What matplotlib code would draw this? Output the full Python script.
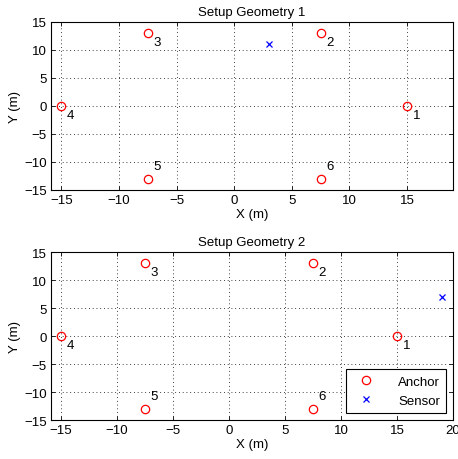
import matplotlib
matplotlib.use('Agg')
import matplotlib.pyplot as plt
import numpy as np

plt.rcParams['font.family'] = ['Liberation Sans', 'DejaVu Sans']

# anchor positions (hexagon, radius 15)
anchor_x = [15, 7.5, -7.5, -15, -7.5, 7.5]
anchor_y = [0, 13, 13, 0, -13, -13]
anchor_ids = ['1', '2', '3', '4', '5', '6']

# sensor positions for each setup
sensor_x = [3, 19]
sensor_y = [11, 7]

titles = ['Setup Geometry 1', 'Setup Geometry 2']
xlims = [(-15.9, 19), (-15.9, 20)]

fig = plt.figure(figsize=(4.58, 4.60), dpi=100)
W, H = 458, 460
boxes = [(51, 23, 453, 191), (51, 253, 453, 421)]

for i in range(2):
    l, t, r, b = boxes[i]
    ax = fig.add_axes([l / W, 1 - b / H, (r - l) / W, (b - t) / H])
    ax.plot(anchor_x, anchor_y, 'o', mfc='none', mec='red', ms=6, mew=0.9,
            ls='none', label='Anchor')
    ax.plot([sensor_x[i]], [sensor_y[i]], 'x', color='blue', ms=4, mew=0.9,
            ls='none', label='Sensor')
    for ax_x, ax_y, lab in zip(anchor_x, anchor_y, anchor_ids):
        dy = 2.3 if ax_y < -10 else -1.6
        ax.text(ax_x + 0.5, ax_y + dy, lab, fontsize=9.5, ha='left', va='center')
    ax.set_xlim(*xlims[i])
    ax.set_ylim(-15, 15)
    ax.set_yticks([-15, -10, -5, 0, 5, 10, 15])
    ax.set_xticks(np.arange(-15, xlims[i][1] + 0.1, 5))
    ax.grid(True, color='black', ls=(0, (1, 3.5)), lw=0.6)
    ax.tick_params(direction='in', top=True, right=True, labelsize=9.5,
                   length=3, width=0.6, pad=3)
    for s in ax.spines.values():
        s.set_linewidth(0.8)
    ax.set_xlabel('X (m)', fontsize=9.5, labelpad=1)
    ax.set_ylabel('Y (m)', fontsize=9.5, labelpad=2)
    ax.set_title(titles[i], fontsize=9.5, pad=5)
    ax.xaxis.set_major_formatter(matplotlib.ticker.FuncFormatter(
        lambda v, p: ('\u2212' if v < 0 else '') + '%d' % abs(v)))
    ax.yaxis.set_major_formatter(matplotlib.ticker.FuncFormatter(
        lambda v, p: ('\u2212' if v < 0 else '') + '%d' % abs(v)))
    if i == 1:
        leg = ax.legend(loc='lower right', fontsize=9.5, fancybox=False,
                        framealpha=1, edgecolor='black', borderaxespad=0.5,
                        handletextpad=1.4, borderpad=0.5)
        leg.get_frame().set_linewidth(0.8)

fig.savefig('out.png', dpi=100)
